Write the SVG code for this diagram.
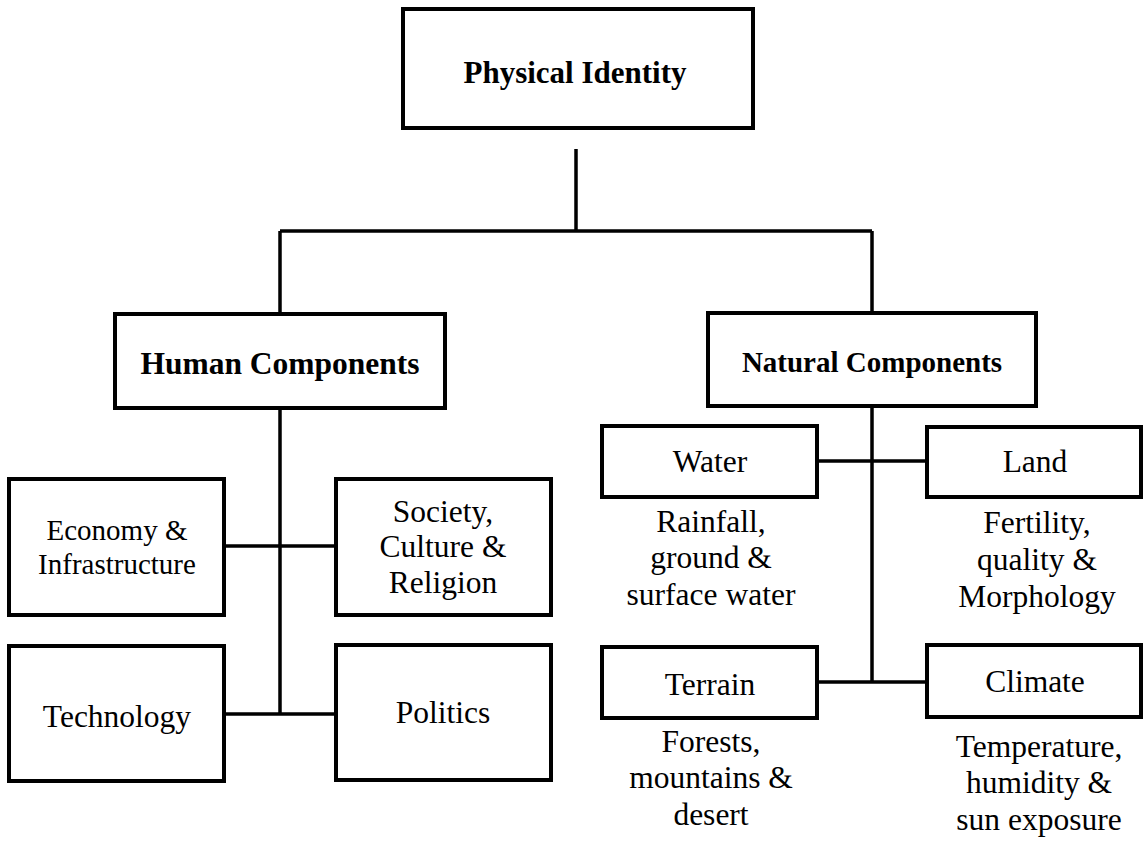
<svg xmlns="http://www.w3.org/2000/svg" width="1144" height="843" viewBox="0 0 1144 843">
<style>
.box{fill:#fff;stroke:#000;stroke-width:4}
.ln{stroke:#000;stroke-width:3.5;fill:none}
.h{font-family:"Liberation Serif","Times New Roman",serif;font-weight:bold;fill:#000;text-anchor:middle}
.t{font-family:"Liberation Serif","Times New Roman",serif;font-size:31.5px;fill:#000;text-anchor:middle}
</style>
<rect width="1144" height="843" fill="#fff"/>
<g id="connectors">
<path class="ln" d="M576 149V231M280 231H872M280 231V314M872 231V313"/>
<path class="ln" d="M280 408V714M224 546H336M224 714H336"/>
<path class="ln" d="M872 406V682M817 461H927M817 682H927"/>
</g>
<g id="physical-identity"><rect class="box" x="403" y="9" width="350" height="119"/><text class="h" x="575" y="83" font-size="31">Physical Identity</text></g>
<g id="human"><rect class="box" x="115" y="314" width="330" height="94"/><text class="h" x="280" y="374" font-size="31.5">Human Components</text></g>
<g id="natural"><rect class="box" x="708" y="313" width="328" height="93"/><text class="h" x="872" y="372" font-size="29">Natural Components</text></g>
<g id="economy"><rect class="box" x="9" y="479" width="215" height="136"/><text class="t" x="117" style="font-size:29px"><tspan x="117" y="540">Economy &amp;</tspan><tspan x="117" y="574">Infrastructure</tspan></text></g>
<g id="society"><rect class="box" x="336" y="479" width="215" height="136"/><text class="t"><tspan x="443" y="522">Society,</tspan><tspan x="443" y="557">Culture &amp;</tspan><tspan x="443" y="593">Religion</tspan></text></g>
<g id="technology"><rect class="box" x="9" y="646" width="215" height="135"/><text class="t" x="117" y="727">Technology</text></g>
<g id="politics"><rect class="box" x="336" y="645" width="215" height="135"/><text class="t" x="443" y="723">Politics</text></g>
<g id="water"><rect class="box" x="602" y="426" width="215" height="71"/><text class="t" x="710" y="472">Water</text><text class="t"><tspan x="711" y="532">Rainfall,</tspan><tspan x="711" y="568">ground &amp;</tspan><tspan x="711" y="605">surface water</tspan></text></g>
<g id="land"><rect class="box" x="927" y="427" width="214" height="70"/><text class="t" x="1035" y="472">Land</text><text class="t"><tspan x="1037" y="533">Fertility,</tspan><tspan x="1037" y="570">quality &amp;</tspan><tspan x="1037" y="607">Morphology</tspan></text></g>
<g id="terrain"><rect class="box" x="602" y="647" width="215" height="71"/><text class="t" x="710" y="695">Terrain</text><text class="t"><tspan x="711" y="752">Forests,</tspan><tspan x="711" y="788">mountains &amp;</tspan><tspan x="711" y="825">desert</tspan></text></g>
<g id="climate"><rect class="box" x="927" y="645" width="214" height="72"/><text class="t" x="1035" y="692">Climate</text><text class="t"><tspan x="1039" y="757">Temperature,</tspan><tspan x="1039" y="793">humidity &amp;</tspan><tspan x="1039" y="830">sun exposure</tspan></text></g>
</svg>
